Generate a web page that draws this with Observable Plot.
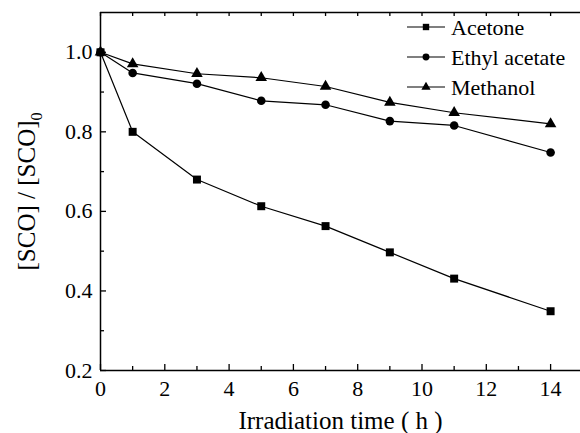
<!DOCTYPE html>
<html><head><meta charset="utf-8">
<script src="https://cdn.jsdelivr.net/npm/d3@7"></script>
<script src="https://cdn.jsdelivr.net/npm/@observablehq/plot@0.6"></script>
<style>
body{margin:0;background:#fff;}
#chart{width:580px;height:433px;}
#chart svg, #chart svg text, #chart svg tspan{font-family:"Liberation Serif","Times New Roman",serif;}
</style></head><body><div id="chart"></div>
<script>
const times = [0, 1, 3, 5, 7, 9, 11, 14];
const acetone = [1.0, 0.800, 0.680, 0.613, 0.563, 0.497, 0.431, 0.349];
const ethylAcetate = [1.0, 0.948, 0.921, 0.878, 0.868, 0.827, 0.816, 0.748];
const methanol = [1.0, 0.971, 0.946, 0.936, 0.914, 0.874, 0.848, 0.820];
const seriesNames = ["Acetone", "Ethyl acetate", "Methanol"];
const seriesSymbols = ["square", "circle", "triangle"];
const xMajorTicks = [0, 2, 4, 6, 8, 10, 12, 14];
const xMinorTicks = [1, 3, 5, 7, 9, 11, 13];
const yMajorTicks = [0.2, 0.4, 0.6, 0.8, 1.0];
const yMinorTicks = [0.3, 0.5, 0.7, 0.9];
const xLabel = "Irradiation time ( h )";
const yLabelMain = "[SCO] / [SCO]";
const yLabelSub = "0";

const seriesValues = [acetone, ethylAcetate, methanol];
const rows = seriesNames.flatMap((s, i) => times.map((t, j) => ({series: s, t, v: seriesValues[i][j]})));

const W = 580, H = 433, mL = 100, mR = 0, mT = 12, mB = 63;
const innerW = W - mL - mR, innerH = H - mT - mB;
const symR = {"square": 4.5, "circle": 4.3, "triangle": 4.3};

const plot = Plot.plot({
  width: W, height: H,
  marginLeft: mL, marginRight: mR, marginTop: mT, marginBottom: mB,
  style: "font-family: 'Liberation Serif', 'Times New Roman', serif; color: black; background: white; overflow: visible;",
  x: {domain: [0, 14.93]},
  y: {domain: [0.2, 1.1]},
  marks: [
    Plot.line(rows, {x: "t", y: "v", z: "series", stroke: "black", strokeWidth: 1.2}),
    ...seriesNames.map((s, i) => Plot.dot(rows.filter(d => d.series === s), {
      x: "t", y: "v", symbol: () => seriesSymbols[i], fill: "black", stroke: "none", r: symR[seriesSymbols[i]]
    })),
    Plot.ruleX([0], {stroke: "black", strokeWidth: 1.5}),
    Plot.ruleY([0.2], {stroke: "black", strokeWidth: 1.5}),
    Plot.ruleY([1.1], {stroke: "black", strokeWidth: 1.5}),
    Plot.tickX(xMajorTicks, {x: d => d, insetTop: innerH - 6, stroke: "black", strokeWidth: 1.3}),
    Plot.tickX(xMinorTicks, {x: d => d, insetTop: innerH - 4, stroke: "black", strokeWidth: 1.3}),
    Plot.tickX([...xMajorTicks, ...xMinorTicks], {x: d => d, insetBottom: innerH - 4, stroke: "black", strokeWidth: 1.3}),
    Plot.tickY(yMajorTicks, {y: d => d, insetRight: innerW - 6, stroke: "black", strokeWidth: 1.3}),
    Plot.tickY(yMinorTicks, {y: d => d, insetRight: innerW - 4, stroke: "black", strokeWidth: 1.3}),
    Plot.axisX({ticks: xMajorTicks, tickSize: 0, tickPadding: 10, fontSize: 22, label: null, tickFormat: d => String(d)}),
    Plot.axisY({ticks: yMajorTicks, tickSize: 0, tickPadding: 8, fontSize: 22, label: null, tickFormat: d3.format(".1f")}),
    Plot.text([xLabel], {text: d => d, frameAnchor: "bottom", textAnchor: "middle", lineAnchor: "middle", dy: 50, fontSize: 25}),
    Plot.text([yLabelMain], {text: d => d, frameAnchor: "left", textAnchor: "middle", lineAnchor: "middle", dx: -74, rotate: -90, fontSize: 25})
  ]
});
document.getElementById("chart").appendChild(plot);

const svg = d3.select(plot);
// subscript in y label
svg.selectAll("text").filter(function() { return this.textContent === yLabelMain; }).each(function() {
  d3.select(this).append("tspan").attr("font-size", 16).attr("dy", 7).text(yLabelSub);
});

// legend
const lg = svg.append("g").attr("font-size", 22).attr("text-anchor", "start");
seriesNames.forEach((s, i) => {
  const gy = 27 + i * 30;
  const row = lg.append("g").attr("transform", `translate(407,${gy})`);
  row.append("line").attr("x1", 0).attr("x2", 38).attr("stroke", "black").attr("stroke-width", 1.2);
  const sym = {square: d3.symbolSquare, circle: d3.symbolCircle, triangle: d3.symbolTriangle}[seriesSymbols[i]];
  row.append("path").attr("transform", "translate(19,0)")
    .attr("d", d3.symbol(sym, Math.PI * Math.pow(symR[seriesSymbols[i]] * 0.8, 2))()).attr("fill", "black");
  row.append("text").attr("x", 44).attr("y", 0).attr("dy", "0.35em").attr("fill", "black").attr("text-anchor", "start").text(s);
});
</script></body></html>
